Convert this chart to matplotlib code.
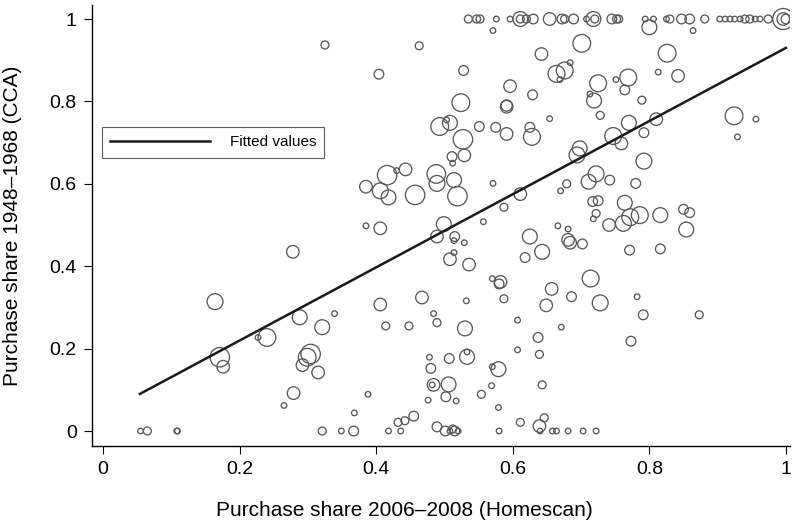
import numpy as np
import matplotlib
matplotlib.use("Agg")
import matplotlib.pyplot as plt

plt.rcParams['font.family'] = ['Liberation Sans', 'DejaVu Sans']

# Points: Homescan share (x), CCA share (y), weight (bubble area)
x_top = [0.535, 0.547, 0.552, 0.576, 0.596, 0.611, 0.611, 0.620, 0.630, 0.654,
         0.672, 0.676, 0.689, 0.708, 0.718, 0.720, 0.745, 0.752, 0.755, 0.794,
         0.806, 0.825, 0.830, 0.847, 0.859, 0.881, 0.903, 0.911, 0.918, 0.925,
         0.933, 0.940, 0.947, 0.955, 0.962, 0.974, 0.996, 0.996, 1.000]
w_top = [2, 2, 2, 1, 1, 7, 2, 2, 3, 5,
         3, 2, 3, 1, 7, 2, 3, 2, 2, 1,
         1, 1, 2, 3, 3, 2, 1, 1, 1, 1,
         1, 2, 2, 1, 1, 2, 14, 5, 3]

x_pts = [0.571, 0.800, 0.864,
         0.325, 0.463, 0.404, 0.701, 0.642, 0.826, 0.528, 0.664, 0.676, 0.684,
         0.669, 0.813, 0.842, 0.596, 0.769, 0.751, 0.725, 0.764, 0.713, 0.719,
         0.629, 0.524, 0.591, 0.591, 0.789, 0.728, 0.654, 0.924, 0.956, 0.929,
         0.493, 0.508, 0.503, 0.551, 0.575, 0.591, 0.625, 0.628, 0.527, 0.770,
         0.810, 0.747, 0.759, 0.792, 0.698, 0.694, 0.511, 0.512, 0.529, 0.792,
         0.514, 0.519, 0.571, 0.679, 0.670, 0.711, 0.722, 0.742, 0.780, 0.611,
         0.587, 0.557, 0.717, 0.725, 0.764, 0.722, 0.718, 0.850, 0.859, 0.816,
         0.772, 0.786, 0.741, 0.762, 0.499, 0.666, 0.681,
         0.416, 0.430, 0.443, 0.385, 0.406, 0.418, 0.457, 0.488, 0.489, 0.385,
         0.406,
         0.278, 0.164, 0.171, 0.176, 0.240, 0.227, 0.288, 0.339, 0.321, 0.304,
         0.299, 0.292, 0.315, 0.279, 0.265, 0.055, 0.065, 0.108, 0.109, 0.321,
         0.349, 0.367, 0.406, 0.414, 0.448, 0.467, 0.484, 0.489, 0.388, 0.368,
         0.418, 0.436, 0.432, 0.442, 0.455, 0.478, 0.480, 0.484, 0.482, 0.476,
         0.489,
         0.489, 0.515, 0.514, 0.529, 0.514, 0.508, 0.536, 0.625, 0.618, 0.643,
         0.570, 0.582, 0.580, 0.587, 0.532, 0.657, 0.649, 0.530, 0.607, 0.637,
         0.607, 0.639, 0.507, 0.533, 0.533, 0.579, 0.570, 0.506, 0.502, 0.517,
         0.554, 0.569, 0.579, 0.643, 0.501, 0.508, 0.512, 0.515, 0.520, 0.580,
         0.611, 0.646, 0.639, 0.640, 0.658, 0.664, 0.681, 0.703, 0.722,
         0.854, 0.771, 0.816, 0.714, 0.728, 0.686, 0.782, 0.791, 0.873, 0.671,
         0.773, 0.681, 0.684, 0.702]
y_pts = [0.972, 0.980, 0.972,
         0.937, 0.935, 0.866, 0.941, 0.915, 0.917, 0.875, 0.867, 0.875, 0.894,
         0.853, 0.871, 0.862, 0.837, 0.858, 0.853, 0.844, 0.828, 0.818, 0.802,
         0.816, 0.797, 0.787, 0.790, 0.803, 0.766, 0.758, 0.765, 0.757, 0.714,
         0.739, 0.748, 0.755, 0.739, 0.737, 0.721, 0.737, 0.714, 0.708, 0.748,
         0.757, 0.716, 0.698, 0.724, 0.686, 0.670, 0.666, 0.650, 0.669, 0.655,
         0.609, 0.570, 0.601, 0.600, 0.583, 0.605, 0.624, 0.609, 0.601, 0.575,
         0.543, 0.508, 0.557, 0.559, 0.554, 0.528, 0.515, 0.538, 0.530, 0.524,
         0.519, 0.524, 0.500, 0.504, 0.502, 0.498, 0.490,
         0.621, 0.632, 0.635, 0.593, 0.583, 0.567, 0.573, 0.624, 0.601, 0.498,
         0.492,
         0.435, 0.314, 0.179, 0.156, 0.227, 0.227, 0.276, 0.285, 0.252, 0.187,
         0.179, 0.160, 0.142, 0.092, 0.062, 0.000, 0.000, 0.000, 0.000, 0.000,
         0.000, 0.000, 0.307, 0.255, 0.255, 0.324, 0.285, 0.263, 0.089, 0.044,
         0.000, 0.000, 0.021, 0.025, 0.036, 0.179, 0.152, 0.112, 0.112, 0.075,
         0.010,
         0.472, 0.472, 0.462, 0.457, 0.433, 0.417, 0.404, 0.472, 0.421, 0.435,
         0.370, 0.362, 0.357, 0.321, 0.316, 0.345, 0.305, 0.249, 0.269, 0.227,
         0.197, 0.186, 0.176, 0.180, 0.192, 0.150, 0.156, 0.113, 0.083, 0.073,
         0.089, 0.110, 0.057, 0.112, 0.000, 0.000, 0.005, 0.000, 0.000, 0.000,
         0.021, 0.032, 0.012, 0.000, 0.000, 0.000, 0.000, 0.000, 0.000,
         0.489, 0.439, 0.442, 0.370, 0.311, 0.326, 0.326, 0.282, 0.282, 0.252,
         0.218, 0.464, 0.457, 0.454]
w_pts = [1, 7, 1,
         2, 2, 3, 10, 5, 10, 3, 9, 9, 1,
         1, 1, 5, 5, 9, 1, 9, 3, 1, 7,
         3, 10, 5, 4, 2, 2, 1, 10, 1, 1,
         10, 7, 1, 3, 3, 5, 3, 9, 12, 7,
         5, 9, 5, 3, 7, 8, 3, 1, 5, 8,
         7, 12, 1, 2, 1, 7, 8, 3, 3, 5,
         2, 1, 3, 3, 7, 2, 1, 3, 3, 7,
         9, 9, 5, 8, 7, 1, 1,
         12, 1, 5, 5, 8, 7, 12, 11, 8, 1,
         5,
         5, 8, 12, 5, 10, 1, 7, 1, 7, 12,
         10, 5, 5, 5, 1, 1, 2, 1, 1, 2,
         1, 3, 5, 2, 2, 5, 1, 2, 1, 1,
         1, 1, 2, 2, 3, 1, 3, 5, 1, 1,
         3,
         5, 3, 1, 1, 1, 5, 5, 7, 3, 7,
         1, 5, 3, 2, 1, 5, 5, 7, 1, 3,
         1, 2, 3, 7, 1, 7, 1, 7, 3, 1,
         2, 1, 1, 2, 3, 1, 2, 3, 1, 1,
         2, 2, 5, 1, 1, 1, 1, 1, 1,
         7, 3, 3, 9, 8, 3, 1, 3, 2, 1,
         3, 5, 5, 3]

# fitted line endpoints (OLS fit shown in the chart)
fit_x = [0.054, 1.0]
fit_b0, fit_b1 = 0.042, 0.888

x_all = np.array(x_pts + x_top)
y_all = np.array(y_pts + [1.0] * len(x_top))
w_all = np.array(w_pts + w_top)

fig = plt.figure(figsize=(7.94, 5.27), dpi=100)
ax = fig.add_axes([92 / 794, 81 / 527, 698 / 794, 441 / 527])

ax.scatter(x_all, y_all, s=16.3 * w_all, facecolors='none',
           edgecolors='#595959', linewidths=0.95, zorder=2)

fx = np.array(fit_x)
ax.plot(fx, fit_b0 + fit_b1 * fx, color='#1a1a1a', lw=1.8, zorder=3,
        label='Fitted values')

ax.set_xlim(-0.0161, 1.0059)
ax.set_ylim(-0.0364, 1.034)
ax.set_xticks([0, 0.2, 0.4, 0.6, 0.8, 1])
ax.set_xticklabels(['0', '0.2', '0.4', '0.6', '0.8', '1'])
ax.set_yticks([0, 0.2, 0.4, 0.6, 0.8, 1])
ax.set_yticklabels(['0', '0.2', '0.4', '0.6', '0.8', '1'])
ax.tick_params(direction='out', length=6, width=0.8, labelsize=14, pad=5)
for s in ['top', 'right']:
    ax.spines[s].set_visible(False)
for s in ['left', 'bottom']:
    ax.spines[s].set_linewidth(1.0)

ax.set_xlabel('Purchase share 2006\u20132008 (Homescan)', fontsize=15)
ax.xaxis.set_label_coords(0.448, -0.125)
ax.set_ylabel('Purchase share 1948\u20131968 (CCA)', fontsize=15)
ax.yaxis.set_label_coords(-0.1, 0.5)

leg = ax.legend(loc='upper left', bbox_to_anchor=(10 / 698, 1 - 122 / 441),
                frameon=True, fancybox=False, handlelength=6.5, handletextpad=1.3,
                fontsize=11, borderpad=0.55, borderaxespad=0)
leg.get_frame().set_edgecolor('#333333')
leg.get_frame().set_linewidth(0.8)

fig.savefig('out.png', dpi=100)
